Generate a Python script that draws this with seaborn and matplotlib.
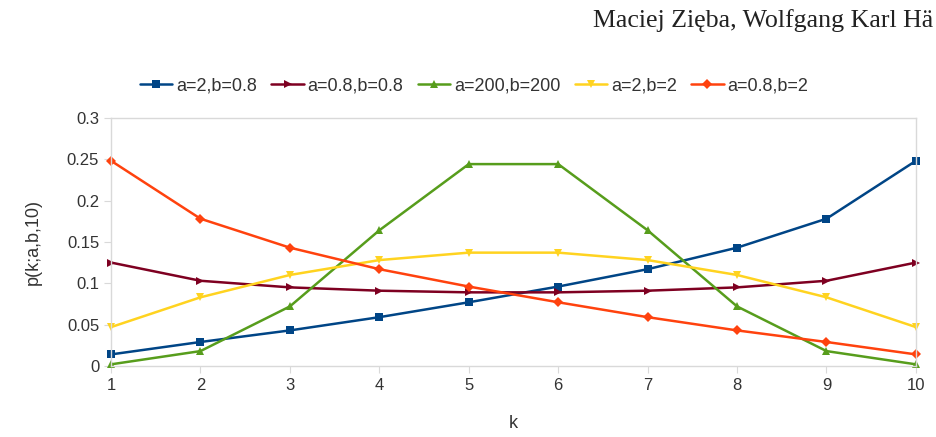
import pandas as pd
import seaborn as sns
import matplotlib.pyplot as plt

# values
k = [1, 2, 3, 4, 5, 6, 7, 8, 9, 10]
s_2_08 = [0.014, 0.029, 0.043, 0.059, 0.077, 0.096, 0.117, 0.143, 0.178, 0.248]
s_08_08 = [0.125, 0.103, 0.095, 0.091, 0.089, 0.089, 0.091, 0.095, 0.103, 0.125]
s_200_200 = [0.002, 0.018, 0.072, 0.164, 0.244, 0.244, 0.164, 0.072, 0.018, 0.002]
s_2_2 = [0.047, 0.083, 0.110, 0.128, 0.137, 0.137, 0.128, 0.110, 0.083, 0.047]
s_08_2 = [0.248, 0.178, 0.143, 0.117, 0.096, 0.077, 0.059, 0.043, 0.029, 0.014]

labels = ["a=2,b=0.8", "a=0.8,b=0.8", "a=200,b=200", "a=2,b=2", "a=0.8,b=2"]
series = [s_2_08, s_08_08, s_200_200, s_2_2, s_08_2]
colors = ["#004586", "#7e0021", "#579d1c", "#ffd320", "#ff420e"]
markers = ["s", ">", "^", "v", "D"]
msizes = [6, 6, 6, 6, 5]

sns.set_style("white")
plt.rcParams['font.family'] = ['Liberation Sans', 'DejaVu Sans']

fig = plt.figure(figsize=(9.37, 4.37), dpi=100, facecolor="white")
ax = fig.add_axes([0.1185, 0.1625, 0.859, 0.568])

for lab, vals, c, m, ms in zip(labels, series, colors, markers, msizes):
    df = pd.DataFrame({"k": k, "p": vals})
    sns.lineplot(data=df, x="k", y="p", ax=ax, color=c, marker=m,
                 markersize=ms, markeredgewidth=0, linewidth=1.8, label=lab)

ax.set_xlim(1, 10)
ax.set_ylim(0, 0.3)
ax.set_xticks(k)
ax.set_yticks([0, 0.05, 0.1, 0.15, 0.2, 0.25, 0.3])
ax.set_yticklabels(["0", "0.05", "0.1", "0.15", "0.2", "0.25", "0.3"])
ax.set_xlabel("k", fontsize=13, color="#333333", labelpad=16)
ax.set_ylabel("p(k;a,b,10)", fontsize=13, color="#333333", labelpad=18)
for s in ax.spines.values():
    s.set_color("#d9d9d9")
    s.set_linewidth(1)
ax.tick_params(axis="both", which="both", length=5, color="#d9d9d9",
               labelsize=12, labelcolor="#333333", direction="out",
               bottom=True, left=True)
for ln in ax.lines:
    ln.set_clip_on(False)

ax.legend(loc="lower center", bbox_to_anchor=(0.451, 1.03), ncol=5,
          frameon=False, fontsize=13, handlelength=1.8, handletextpad=0.2,
          columnspacing=0.8, labelcolor="#333333")

# page header, cut at the right edge in the source image
fig.text(0.996, 0.952, "Maciej Zięba, Wolfgang Karl Hä", fontsize=18.6,
         family="Liberation Serif", color="#222222", va="center", ha="right")

fig.savefig("out.png", dpi=100, facecolor="white")
